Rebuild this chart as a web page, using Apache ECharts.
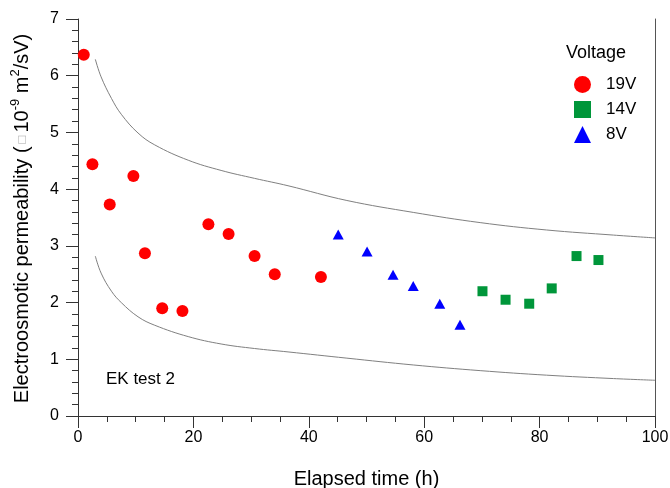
<!DOCTYPE html>
<html>
<head>
<meta charset="utf-8">
<script src="https://cdn.jsdelivr.net/npm/echarts@6/dist/echarts.min.js"></script>
<style>
  html, body { margin: 0; padding: 0; background: #fff; }
  #chart { width: 670px; height: 488px; }
</style>
</head>
<body>
<div id="chart"></div>
<script>
// Electroosmotic permeability measured during EK test 2, grouped by applied voltage
const t19 = [1.0, 2.5, 5.5, 9.6, 11.6, 14.6, 18.1, 22.6, 26.1, 30.6, 34.1, 42.1];
const k19 = [6.37, 4.44, 3.73, 4.23, 2.87, 1.90, 1.85, 3.38, 3.21, 2.82, 2.50, 2.45];

const t14 = [70.1, 74.1, 78.2, 82.1, 86.4, 90.2];
const k14 = [2.20, 2.05, 1.98, 2.25, 2.82, 2.75];

const t8 = [45.1, 50.1, 54.6, 58.1, 62.7, 66.2];
const k8 = [3.20, 2.90, 2.49, 2.29, 1.98, 1.61];

// Upper and lower envelope curves
const envT = [3.0, 4.0, 5.8, 7.5, 10.4, 13.3, 19.1, 24.8, 30.6, 36.4, 46.6, 58.1, 69.7, 81.2, 92.8, 100];
const upperK = [6.29, 5.98, 5.60, 5.32, 4.99, 4.78, 4.51, 4.33, 4.19, 4.06, 3.80, 3.59, 3.41, 3.28, 3.19, 3.14];
const lowerK = [2.82, 2.52, 2.20, 2.00, 1.75, 1.60, 1.40, 1.27, 1.19, 1.13, 1.02, 0.90, 0.80, 0.72, 0.66, 0.63];

const xTicks = { min: 0, max: 100, step: 20 };
const yTicks = { min: 0, max: 7, step: 1 };

const seriesNames = ['19V', '14V', '8V'];

const pairs = (xs, ys) => xs.map((x, i) => [x, ys[i]]);

const FONT = '"Liberation Sans", Arial, sans-serif';
const AXIS = '#333333';

const chart = echarts.init(document.getElementById('chart'), null, { renderer: 'canvas' });

chart.setOption({
  animation: false,
  backgroundColor: '#ffffff',
  textStyle: { fontFamily: FONT },
  grid: { left: 78, right: 15, top: 19, bottom: 72, outerBoundsMode: 'none', containLabel: false },
  xAxis: {
    type: 'value',
    min: xTicks.min, max: xTicks.max, interval: xTicks.step,
    name: 'Elapsed time (h)',
    nameLocation: 'middle',
    nameGap: 53,
    nameTextStyle: { fontSize: 20, color: '#000', fontFamily: FONT },
    axisLine: { show: true, onZero: false, lineStyle: { color: AXIS, width: 1 } },
    axisTick: { show: true, inside: false, length: 12, lineStyle: { color: AXIS } },
    minorTick: { show: true, splitNumber: 4, length: 6, lineStyle: { color: AXIS } },
    axisLabel: { fontSize: 16, color: '#000', margin: 14, fontFamily: FONT },
    splitLine: { show: false }
  },
  yAxis: [{
    type: 'value',
    min: yTicks.min, max: yTicks.max, interval: yTicks.step,
    name: '{t|Electroosmotic permeability (}{box|\u25A1}{t|10}{sup|-9}{t| m}{sup|2}{t|/sV)}',
    nameLocation: 'middle',
    nameGap: 46,
    nameTextStyle: {
      fontSize: 20, color: '#000', fontFamily: FONT,
      padding: [0, 2, 0, 0],
      rich: {
        t: { fontSize: 20, color: '#000', fontFamily: FONT, lineHeight: 23, verticalAlign: 'bottom' },
        box: { fontSize: 13, color: '#aaa', fontFamily: FONT, lineHeight: 23, verticalAlign: 'bottom', padding: [0, 3, 3, 3] },
        sup: { fontSize: 13, color: '#000', fontFamily: FONT, lineHeight: 23, verticalAlign: 'top' }
      }
    },
    axisLine: { show: true, onZero: false, lineStyle: { color: AXIS, width: 1 } },
    axisTick: { show: true, inside: false, length: 12, lineStyle: { color: AXIS } },
    minorTick: { show: true, splitNumber: 5, length: 6, lineStyle: { color: AXIS } },
    axisLabel: { fontSize: 16, color: '#000', margin: 19, fontFamily: FONT },
    splitLine: { show: false }
  }, {
    type: 'value',
    position: 'right',
    min: yTicks.min, max: yTicks.max, interval: yTicks.step,
    axisLine: { show: true, onZero: false, lineStyle: { color: '#555', width: 1 } },
    axisTick: { show: false },
    axisLabel: { show: false },
    splitLine: { show: false }
  }],
  legend: {
    data: seriesNames,
    orient: 'vertical',
    left: 569,
    top: 71,
    itemWidth: 17,
    itemHeight: 17,
    itemGap: 8,
    symbolKeepAspect: true,
    textStyle: { fontSize: 17, color: '#000', fontFamily: FONT, lineHeight: 17, padding: [0, 0, 0, 10] },
    selectedMode: false
  },
  graphic: [
    {
      type: 'text', left: 566, top: 44,
      style: { text: 'Voltage', font: '18px ' + FONT, fill: '#000' }
    },
    {
      type: 'text', left: 106, top: 371,
      style: { text: 'EK test 2', font: '17px ' + FONT, fill: '#000' }
    }
  ],
  series: [
    {
      name: 'upper', type: 'line', data: pairs(envT, upperK),
      showSymbol: false, smooth: 0.4,
      lineStyle: { color: '#808080', width: 1 }, silent: true, z: 1
    },
    {
      name: 'lower', type: 'line', data: pairs(envT, lowerK),
      showSymbol: false, smooth: 0.4,
      lineStyle: { color: '#808080', width: 1 }, silent: true, z: 1
    },
    {
      name: '19V', type: 'scatter', data: pairs(t19, k19),
      symbol: 'circle', symbolSize: 12,
      itemStyle: { color: '#ff0000', opacity: 1 }, z: 3
    },
    {
      name: '14V', type: 'scatter', data: pairs(t14, k14),
      symbol: 'rect', symbolSize: 10,
      itemStyle: { color: '#00963a', opacity: 1 }, z: 3
    },
    {
      name: '8V', type: 'scatter', data: pairs(t8, k8),
      symbol: 'triangle', symbolSize: [11, 10],
      itemStyle: { color: '#0000ff', opacity: 1 }, z: 3
    }
  ]
});
</script>
</body>
</html>
